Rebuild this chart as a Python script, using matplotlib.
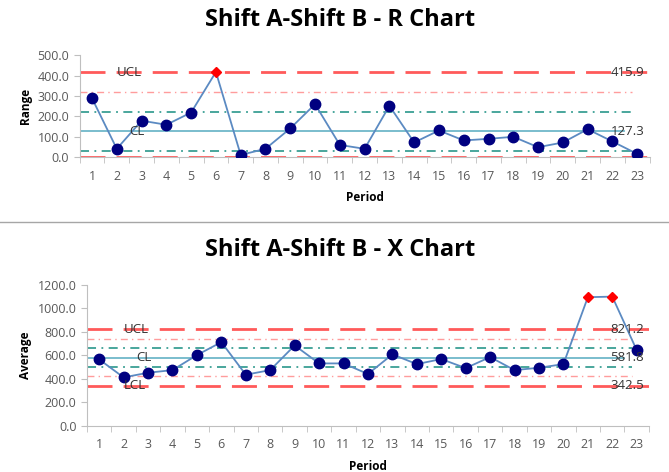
import numpy as np
import matplotlib.pyplot as plt
from matplotlib.lines import Line2D
from matplotlib.ticker import FixedLocator, FormatStrFormatter

plt.rcParams['font.family'] = ['Open Sans', 'DejaVu Sans']

periods = list(range(1, 24))

# R chart
r_values = [289, 41, 179, 159, 219, 418, 11, 41, 141, 260, 60, 41, 252,
            72, 131, 82, 90, 100, 49, 72, 137, 77, 16]
r_limits = [415.9, 127.3, 0.0]          # UCL, CL, LCL
r_zone2 = [319.7]                        # +2 sigma
r_zone1 = [223.5, 31.1]                  # +/- 1 sigma
r_out = [6]

# X chart
x_values = [566, 413, 453, 475, 603, 713, 436, 475, 685, 532, 532, 442, 609,
            526, 569, 492, 586, 475, 495, 526, 1095, 1100, 645]
x_limits = [821.2, 581.8, 342.5]
x_zone2 = [741.4, 422.3]
x_zone1 = [661.6, 502.0]
x_out = [21, 22]

RED = '#ff5a5a'
PINK = '#ff9c9c'
TEAL = '#3a9f94'
CLCOL = '#6fb7c9'
LINE = '#5b8ac2'
NAVY = '#000080'
GRAY = '#595959'


def draw_chart(ax, vals, limits, zone2, zone1, out, ymax, ystep, ylabel, lcl_label):
    ucl, cl, lcl = limits
    ax.axhline(ucl, color=RED, lw=2, dashes=(9, 4), zorder=2)
    ax.axhline(lcl, color=RED, lw=2, dashes=(9, 4), zorder=2)
    ax.axhline(cl, color=CLCOL, lw=1.3, xmax=0.955, zorder=2)
    for z in zone2:
        ax.axhline(z, color=PINK, lw=1, dashes=(5, 3, 1, 3), xmax=0.97, zorder=2)
    for z in zone1:
        ax.axhline(z, color=TEAL, lw=1.3, dashes=(5, 3, 1, 3), xmax=0.97, zorder=2)

    ax.plot(periods, vals, color=LINE, lw=1.3, zorder=3)
    normal = [p for p in periods if p not in out]
    ax.plot(normal, [vals[p - 1] for p in normal], 'o', color=NAVY,
            ms=7.5, lw=0, zorder=4)
    ax.plot(out, [vals[p - 1] for p in out], 'D', color='#ff0000',
            ms=5.5, lw=0, zorder=4)

    fs = 9.5
    tc = '#333333'
    ax.text(2.0, ucl, 'UCL', fontsize=fs, color=tc, va='center', ha='left', zorder=5)
    ax.text(2.5, cl, 'CL', fontsize=fs, color=tc, va='center', ha='left', zorder=5)
    if lcl_label:
        ax.text(2.0, lcl, 'LCL', fontsize=fs, color=tc, va='center', ha='left', zorder=5)
        ax.text(23.3, lcl, '%.1f' % lcl, fontsize=fs, color=tc, va='center', ha='right', zorder=5)
    ax.text(23.3, ucl, '%.1f' % ucl, fontsize=fs, color=tc, va='center', ha='right', zorder=5)
    ax.text(23.3, cl, '%.1f' % cl, fontsize=fs, color=tc, va='center', ha='right', zorder=5)

    ax.set_xlim(0.5, 23.5)
    ax.set_ylim(0, ymax)
    ax.set_yticks(np.arange(0, ymax + 1, ystep))
    ax.yaxis.set_major_formatter(FormatStrFormatter('%.1f'))
    ax.set_xticks(periods)
    ax.xaxis.set_minor_locator(FixedLocator(np.arange(0.5, 24, 1)))
    ax.tick_params(axis='x', which='major', length=0, labelsize=9, colors=GRAY, pad=9)
    ax.tick_params(axis='x', which='minor', length=4, color='#bfbfbf')
    ax.tick_params(axis='y', length=4, color='#bfbfbf', labelsize=9, labelcolor=GRAY)
    for s in ['top', 'right']:
        ax.spines[s].set_visible(False)
    for s in ['left', 'bottom']:
        ax.spines[s].set_color('#bfbfbf')
    ax.set_xlabel('Period', fontsize=8.5, fontweight='bold', labelpad=6)
    ax.set_ylabel(ylabel, fontsize=8.5, fontweight='bold')


fig = plt.figure(figsize=(6.69, 4.72), dpi=100)
ax1 = fig.add_axes([0.119, 0.667, 0.852, 0.216])
ax2 = fig.add_axes([0.130, 0.0975, 0.840, 0.299])

draw_chart(ax1, r_values, r_limits, r_zone2, r_zone1, r_out, 500, 100, 'Range', False)
draw_chart(ax2, x_values, x_limits, x_zone2, x_zone1, x_out, 1200, 200, 'Average', True)

fig.text(0.508, 1 - 20 / 472, 'Shift A-Shift B - R Chart', fontsize=17,
         fontweight='bold', ha='center', va='center')
fig.text(0.508, 1 - 250 / 472, 'Shift A-Shift B - X Chart', fontsize=17,
         fontweight='bold', ha='center', va='center')

fig.add_artist(Line2D([0, 1], [1 - 222 / 472, 1 - 222 / 472], color='#a6a6a6', lw=1))

fig.savefig('out.png', dpi=100)
